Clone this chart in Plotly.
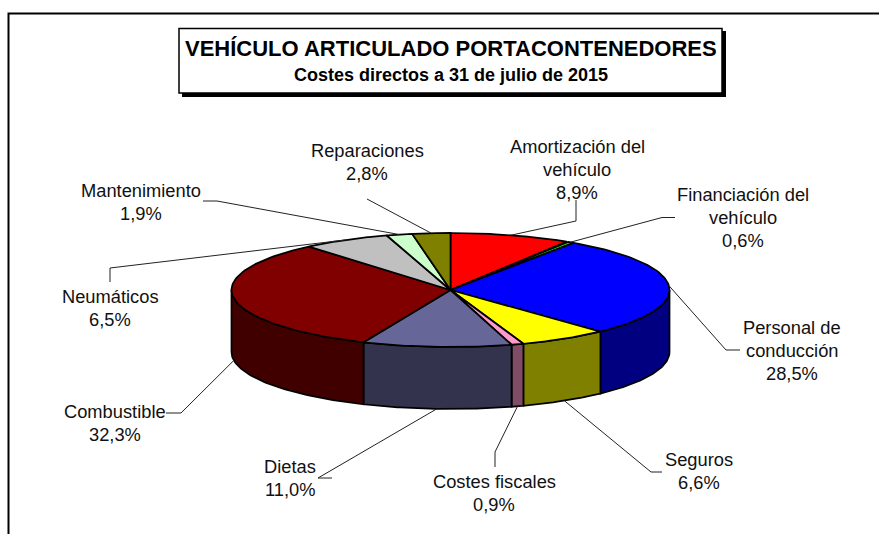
import numpy as np
import plotly.graph_objects as go

categories = ["Amortización del vehículo", "Financiación del vehículo", "Personal de conducción",
              "Seguros", "Costes fiscales", "Dietas", "Combustible", "Neumáticos",
              "Mantenimiento", "Reparaciones"]
values = [8.9, 0.6, 28.5, 6.6, 0.9, 11.0, 32.3, 6.5, 1.9, 2.8]
value_labels = ["8,9%", "0,6%", "28,5%", "6,6%", "0,9%", "11,0%", "32,3%", "6,5%", "1,9%", "2,8%"]
top_colors = ["#FF0000", "#00FF00", "#0000FF", "#FFFF00", "#FF99CC",
              "#666699", "#800000", "#C0C0C0", "#CCFFCC", "#808000"]
side_colors = ["#800000", "#008000", "#000080", "#808000", "#804C66",
               "#33334D", "#400000", "#606060", "#668066", "#404000"]
title_main = "VEHÍCULO ARTICULADO PORTACONTENEDORES"
title_sub = "Costes directos a 31 de julio de 2015"

# Page geometry of the projected pie
CX, CY, RX, RY, DEPTH = 450.5, 290.0, 219.0, 57.0, 62.0
FONT = "Liberation Sans"

# Label text lines with their centres, and the leader's elbow points
label_layout = [
    (["Amortización del", "vehículo", "8,9%"], 577, 146, [(576, 200), (576, 221)], False),
    (["Financiación del", "vehículo", "0,6%"], 743, 194, [(675, 217.5), (662, 217.5)], False),
    (["Personal de", "conducción", "28,5%"], 792, 327, [(740, 350), (726, 350)], True),
    (["Seguros", "6,6%"], 699, 459, [(662, 472), (651, 472)], True),
    (["Costes fiscales", "0,9%"], 494, 481, [(495, 467), (495, 452)], True),
    (["Dietas", "11,0%"], 290, 466, [(332, 478), (318, 478)], True),
    (["Combustible", "32,3%"], 114.5, 411, [(166, 413), (181, 413)], True),
    (["Neumáticos", "6,5%"], 110, 296, [(110, 282), (110, 268)], False),
    (["Mantenimiento", "1,9%"], 141, 190, [(203, 201), (217, 201)], False),
    (["Reparaciones", "2,8%"], 367, 150, [(367, 199)], False),
]

fig = go.Figure()

def pt(theta_deg, drop=0.0):
    t = np.radians(theta_deg)
    return CX + RX * np.sin(t), CY - RY * np.cos(t) + drop

def poly(xs, ys, color, lw=1.75):
    fig.add_trace(go.Scatter(x=list(xs), y=list(ys), mode="lines", fill="toself", fillcolor=color,
                             line=dict(color="black", width=lw), hoverinfo="skip", showlegend=False))

# Cumulative angles come straight from the values, clockwise from 12 o'clock
shares = np.array(values) / sum(values) * 360.0
edges = np.concatenate([[0.0], np.cumsum(shares)])

# Outer walls: only the near half of the rim is seen (90..270 degrees)
for i in range(len(values)):
    a, b = max(edges[i], 90.0), min(edges[i + 1], 270.0)
    if b <= a:
        continue
    th = np.linspace(a, b, 60)
    xt, yt = pt(th)
    xb, yb = pt(th[::-1], DEPTH)
    poly(np.r_[xt, xb, xt[0]], np.r_[yt, yb, yt[0]], side_colors[i])

# Top faces
for i in range(len(values)):
    th = np.linspace(edges[i], edges[i + 1], 80)
    xt, yt = pt(th)
    poly(np.r_[CX, xt, CX], np.r_[CY, yt, CY], top_colors[i])

# Leaders, anchored on the rim at each slice's mid angle
for i, (lines, lx, ly, elbow, on_wall) in enumerate(label_layout):
    mid = (edges[i] + edges[i + 1]) / 2
    ax, ay = pt(mid, DEPTH if on_wall and 90 < mid < 270 else 0.0)
    xs = [p[0] for p in elbow] + [float(ax)]
    ys = [p[1] for p in elbow] + [float(ay)]
    fig.add_trace(go.Scatter(x=xs, y=ys, mode="lines", line=dict(color="#222222", width=1),
                             hoverinfo="skip", showlegend=False))

annotations = []
LINE = 23
for lines, lx, ly, elbow, on_wall in label_layout:
    for j, s in enumerate(lines):
        annotations.append(dict(x=lx, y=ly + j * LINE, xref="x", yref="y", text=s, showarrow=False,
                                xanchor="center", yanchor="middle",
                                font=dict(family=FONT, size=18.3, color="#111111")))
annotations.append(dict(x=451, y=48, xref="x", yref="y", text=title_main, showarrow=False,
                        xanchor="center", yanchor="middle",
                        font=dict(family=FONT, size=22, color="black", weight="bold")))
annotations.append(dict(x=451, y=75, xref="x", yref="y", text=title_sub, showarrow=False,
                        xanchor="center", yanchor="middle",
                        font=dict(family=FONT, size=18, color="black", weight="bold")))

shapes = [
    dict(type="rect", x0=8.5, y0=13.5, x1=900, y1=560, line=dict(color="black", width=2), layer="below"),
    dict(type="rect", x0=182, y0=31, x1=726, y1=97, fillcolor="black", line=dict(width=0), layer="below"),
    dict(type="rect", x0=179, y0=28.5, x1=722, y1=93, fillcolor="white",
         line=dict(color="black", width=1.5), layer="below"),
]

fig.update_layout(
    width=879, height=534, margin=dict(l=0, r=0, t=0, b=0, pad=0),
    paper_bgcolor="white", plot_bgcolor="white", showlegend=False,
    xaxis=dict(range=[0, 879], visible=False, fixedrange=True),
    yaxis=dict(range=[534, 0], visible=False, fixedrange=True),
    annotations=annotations, shapes=shapes,
)
fig.write_html("out.html", config=dict(displayModeBar=False),
               post_script="document.body.style.margin='0';document.body.style.overflow='hidden';")
